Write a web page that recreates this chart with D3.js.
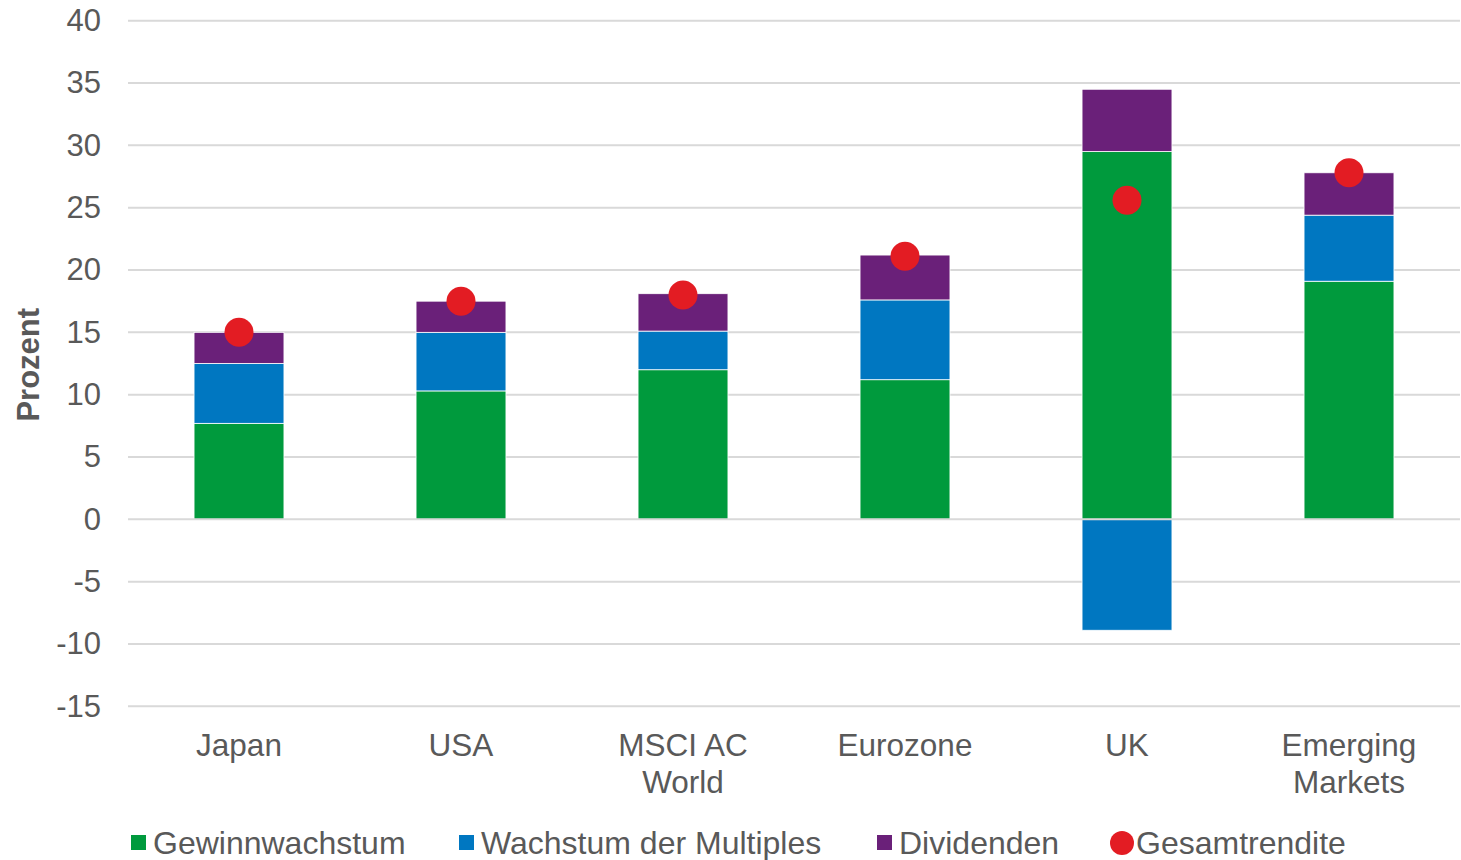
<!DOCTYPE html>
<html>
<head>
<meta charset="utf-8">
<script src="https://cdn.jsdelivr.net/npm/d3@7"></script>
<style>
  html, body { margin: 0; padding: 0; background: #fff; }
  svg { display: block; }
  text { font-family: "Liberation Sans", Arial, sans-serif; fill: #595959; }
</style>
</head>
<body>
<svg id="chart" width="1461" height="860"></svg>
<script>
// Beitrag zur Gesamtrendite je Region (Prozentpunkte)
const categories = [["Japan"], ["USA"], ["MSCI AC", "World"], ["Eurozone"], ["UK"], ["Emerging", "Markets"]];
const gewinnwachstum = [7.7, 10.3, 12.0, 11.2, 29.5, 19.1];
const multiples      = [4.8, 4.7, 3.1, 6.4, -8.9, 5.3];
const dividenden     = [2.5, 2.5, 3.0, 3.6, 5.0, 3.4];
const gesamtrendite  = [15.0, 17.5, 18.0, 21.1, 25.6, 27.8];
const yTicks = [40, 35, 30, 25, 20, 15, 10, 5, 0, -5, -10, -15];

const seriesNames  = ["Gewinnwachstum", "Wachstum der Multiples", "Dividenden", "Gesamtrendite"];
const seriesColors = ["#009a3d", "#0077c1", "#6a2079", "#e31c23"];

const svg = d3.select("#chart");
const plotLeft = 128, plotRight = 1460, plotTop = 20.7, plotBottom = 706.3;

const x = d3.scaleBand()
  .domain(d3.range(categories.length))
  .range([plotLeft, plotRight])
  .paddingInner(0.595)
  .paddingOuter(0.2975);

const y = d3.scaleLinear().domain([-15, 40]).range([plotBottom, plotTop]);

// Gitternetzlinien
svg.append("g")
  .selectAll("line")
  .data(yTicks.filter(t => t !== 0))
  .join("line")
  .attr("x1", plotLeft).attr("x2", plotRight)
  .attr("y1", d => y(d)).attr("y2", d => y(d))
  .attr("stroke", "#d9d9d9").attr("stroke-width", 2);

// Y-Achsenbeschriftung (Bindestrich als Minuszeichen)
const yAxis = d3.axisLeft(y).tickValues(yTicks).tickSize(0).tickPadding(0)
  .tickFormat(d => String(d));
const gy = svg.append("g").attr("transform", "translate(101,0)").call(yAxis);
gy.select(".domain").remove();
gy.selectAll("text")
  .style("font-size", "31px")
  .style("fill", "#595959")
  .style("font-family", "'Liberation Sans', Arial, sans-serif");

svg.append("text")
  .attr("transform", `translate(39,${y(12.4)}) rotate(-90)`)
  .attr("text-anchor", "middle")
  .style("font-size", "31px")
  .style("font-weight", "bold")
  .text("Prozent");

// Gestapelte Balken: positive Anteile nach oben, negative nach unten
const stacked = [gewinnwachstum, multiples, dividenden];
const segments = [];
categories.forEach((c, i) => {
  let pos = 0, neg = 0;
  stacked.forEach((arr, s) => {
    const v = arr[i];
    let y0, y1;
    if (v >= 0) { y0 = pos; y1 = pos + v; pos = y1; }
    else { y0 = neg; y1 = neg + v; neg = y1; }
    segments.push({ i, s, y0, y1 });
  });
});

svg.append("g")
  .selectAll("rect")
  .data(segments)
  .join("rect")
  .attr("x", d => x(d.i))
  .attr("width", x.bandwidth())
  .attr("y", d => y(Math.max(d.y0, d.y1)))
  .attr("height", d => Math.abs(y(d.y0) - y(d.y1)))
  .attr("fill", d => seriesColors[d.s])
  .attr("stroke", "#ffffff")
  .attr("stroke-width", 0.8);

// Nulllinie
svg.append("line")
  .attr("x1", plotLeft).attr("x2", plotRight)
  .attr("y1", y(0)).attr("y2", y(0))
  .attr("stroke", "#d9d9d9").attr("stroke-width", 2);

// Gesamtrendite als Punkte
svg.append("g")
  .selectAll("circle")
  .data(gesamtrendite)
  .join("circle")
  .attr("cx", (d, i) => x(i) + x.bandwidth() / 2)
  .attr("cy", d => y(d))
  .attr("r", 14.5)
  .attr("fill", seriesColors[3]);

// Kategorienbeschriftung
const xl = svg.append("g");
categories.forEach((lines, i) => {
  const t = xl.append("text")
    .attr("text-anchor", "middle")
    .attr("x", x(i) + x.bandwidth() / 2)
    .attr("y", 756)
    .style("font-size", "31.5px");
  lines.forEach((ln, k) => {
    t.append("tspan")
      .attr("x", x(i) + x.bandwidth() / 2)
      .attr("dy", k === 0 ? 0 : 37)
      .text(ln);
  });
});

// Legende
const legendX = [131, 459, 877, 1110];
const lg = svg.append("g");
seriesNames.forEach((name, i) => {
  if (i < 3) {
    lg.append("rect")
      .attr("x", legendX[i]).attr("y", 835)
      .attr("width", 15).attr("height", 15)
      .attr("fill", seriesColors[i]);
    lg.append("text")
      .attr("x", legendX[i] + 22).attr("y", 854)
      .style("font-size", "32px")
      .text(name);
  } else {
    lg.append("circle")
      .attr("cx", legendX[i] + 12).attr("cy", 843)
      .attr("r", 12)
      .attr("fill", seriesColors[i]);
    lg.append("text")
      .attr("x", legendX[i] + 26).attr("y", 854)
      .style("font-size", "32px")
      .text(name);
  }
});
</script>
</body>
</html>
